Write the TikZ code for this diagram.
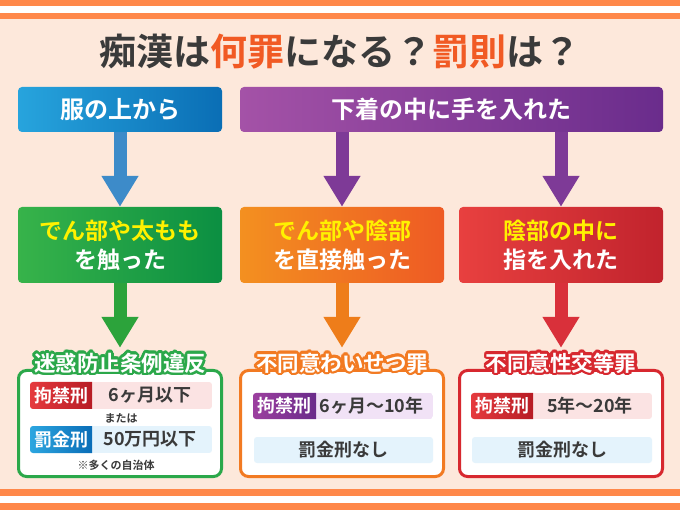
\documentclass[tikz,border=0pt]{standalone}
\usepackage{fontspec}
\setmainfont{Noto Sans CJK JP}[BoldFont={Noto Sans CJK JP Bold}]
\usepackage{tikz}
\usetikzlibrary{arrows.meta,positioning,calc}

\definecolor{peach}{HTML}{FDE8DB}
\definecolor{stripe}{HTML}{FF884A}
\definecolor{ink}{HTML}{3A3A3A}
\definecolor{accent}{HTML}{F15A24}
\definecolor{ylw}{HTML}{FFF100}
\definecolor{blueA}{HTML}{27A4DD}
\definecolor{blueB}{HTML}{0A6EB5}
\definecolor{purpA}{HTML}{A452A7}
\definecolor{purpB}{HTML}{6A2C8C}
\definecolor{grnA}{HTML}{37B34A}
\definecolor{grnB}{HTML}{0B8F42}
\definecolor{orgA}{HTML}{F39020}
\definecolor{orgB}{HTML}{EE5A24}
\definecolor{redA}{HTML}{E8403F}
\definecolor{redB}{HTML}{C1232D}
\definecolor{arrBlue}{HTML}{3D8BC9}
\definecolor{arrPurp}{HTML}{7E3A97}
\definecolor{arrGrn}{HTML}{2CA33B}
\definecolor{arrOrg}{HTML}{EE7D1A}
\definecolor{arrRed}{HTML}{D9303A}
\definecolor{lnGrn}{HTML}{2BA84A}
\definecolor{lnOrg}{HTML}{F27A22}
\definecolor{lnRed}{HTML}{D7282F}
\definecolor{rowPink}{HTML}{FBE3E3}
\definecolor{rowBlue}{HTML}{E4F3FC}
\definecolor{rowPurp}{HTML}{F1E2F6}
\definecolor{lblRedA}{HTML}{E53A3E}
\definecolor{lblRedB}{HTML}{B71C24}
\definecolor{lblBlueA}{HTML}{2CA6E0}
\definecolor{lblBlueB}{HTML}{0A6DB7}
\definecolor{lblPurpA}{HTML}{9C3F9F}
\definecolor{lblPurpB}{HTML}{6A2B8A}

\begin{document}
\begin{tikzpicture}[x=1pt,y=-1pt,
    topbox/.style={rounded corners=4pt, text=white, font=\bfseries\fontsize{24}{28}\selectfont,
        minimum height=45pt, inner sep=0pt},
    midbox/.style={rounded corners=4pt, text=white, font=\bfseries\fontsize{23}{29}\selectfont,
        minimum width=204pt, minimum height=76pt, align=center, inner sep=0pt},
    resbox/.style={draw, line width=3pt, rounded corners=8pt, fill=white,
        minimum width=203pt, minimum height=106pt},
    restitle/.style={font=\bfseries\fontsize{21.5}{24}\selectfont, minimum height=30pt, inner sep=0pt},
    bigarrow/.style={line width=13pt, -{Triangle[width=35pt,length=31pt]}},
    lbl/.style={text=white, font=\bfseries\fontsize{18}{20}\selectfont, inner sep=0pt},
    val/.style={text=ink, font=\bfseries\fontsize{18}{20}\selectfont, inner sep=0pt},
    note/.style={text=ink, font=\bfseries\fontsize{11}{13}\selectfont, inner sep=0pt}]

    % Background and stripes
    \useasboundingbox (0,0) rectangle (680,510);
    \fill[peach] (0,0) rectangle (680,510);
    \fill[stripe] (0,0) rectangle (680,6);
    \fill[white] (0,6) rectangle (680,13);
    \fill[stripe] (0,13) rectangle (680,19);
    \fill[stripe] (0,489) rectangle (680,496);
    \fill[white] (0,496) rectangle (680,503);
    \fill[stripe] (0,503) rectangle (680,510);

    % Title
    \node[text=ink, font=\bfseries\fontsize{37}{40}\selectfont] (title) at (340,52)
        {痴漢は{\color{accent}何罪}になる？{\color{accent}罰則}は？};

    % Top row
    \node[topbox, minimum width=204pt, left color=blueA, right color=blueB] (over) at (120,109.5) {服の上から};
    \node[topbox, minimum width=423pt, left color=purpA, right color=purpB] (under) at (451.5,109.5) {下着の中に手を入れた};

    % Middle row
    \node[midbox, left color=grnA, right color=grnB] (touchA) at (120,245)
        {{\color{ylw}でん部や太もも}\\を触った};
    \node[midbox, left color=orgA, right color=orgB] (touchB) at (342,245)
        {{\color{ylw}でん部や陰部}\\を直接触った};
    \node[midbox, left color=redA, right color=redB] (finger) at (561,245)
        {{\color{ylw}陰部の中に}\\指を入れた};

    % Result boxes
    \node[resbox, draw=lnGrn] (lawA) at (120,423.5) {};
    \node[resbox, draw=lnOrg] (lawB) at (342,423.5) {};
    \node[resbox, draw=lnRed] (lawC) at (561,423.5) {};

    % Result titles with outline
    \foreach \a in {0,22.5,...,359} {
        \node[restitle, text=lnGrn] at ($(120,363)+(\a:2.6)$) {迷惑防止条例違反};
        \node[restitle, text=lnOrg] at ($(342,363)+(\a:2.6)$) {不同意わいせつ罪};
        \node[restitle, text=lnRed] at ($(561,363)+(\a:2.6)$) {不同意性交等罪};
    }
    \node[restitle, text=white] (ttlA) at (120,363) {迷惑防止条例違反};
    \node[restitle, text=white] (ttlB) at (342,363) {不同意わいせつ罪};
    \node[restitle, text=white] (ttlC) at (561,363) {不同意性交等罪};

    % Arrows
    \draw[bigarrow, arrBlue] (over.south) -- (touchA.north);
    \draw[bigarrow, arrPurp] (under.south -| touchB.north) -- (touchB.north);
    \draw[bigarrow, arrPurp] (under.south -| finger.north) -- (finger.north);
    \draw[bigarrow, arrGrn] (touchA.south) -- (ttlA.north);
    \draw[bigarrow, arrOrg] (touchB.south) -- (ttlB.north);
    \draw[bigarrow, arrRed] (finger.south) -- (ttlC.north);

    % Left box rows
    \begin{scope}
        \clip[rounded corners=3pt] (30,382) rectangle (212,409);
        \fill[rowPink] (30,382) rectangle (212,409);
        \shade[left color=lblRedA, right color=lblRedB] (30,382) rectangle (92,409);
    \end{scope}
    \begin{scope}
        \clip[rounded corners=3pt] (30,426) rectangle (212,453);
        \fill[rowBlue] (30,426) rectangle (212,453);
        \shade[left color=lblBlueA, right color=lblBlueB] (30,426) rectangle (92,453);
    \end{scope}
    \node[lbl] (kinA) at (61,395.5) {拘禁刑};
    \node[val] (termA) at (150,395.5) {6ヶ月以下};
    \node[note] (orA) at (121,418) {または};
    \node[lbl] (fineA) at (61,439.5) {罰金刑};
    \node[val] (sumA) at (150,439.5) {50万円以下};
    \node[note] (noteA) at (116,465) {※多くの自治体};

    % Middle box rows
    \begin{scope}
        \clip[rounded corners=3pt] (253,393) rectangle (433,419);
        \fill[rowPurp] (253,393) rectangle (433,419);
        \shade[left color=lblPurpA, right color=lblPurpB] (253,393) rectangle (316,419);
    \end{scope}
    \fill[rowBlue, rounded corners=3pt] (254,437) rectangle (433,463);
    \node[lbl] (kinB) at (284.5,406) {拘禁刑};
    \node[val] (termB) at (371.5,406) {6ヶ月～10年};
    \node[val] (fineB) at (343,450) {罰金刑なし};

    % Right box rows
    \begin{scope}
        \clip[rounded corners=3pt] (471,393) rectangle (652,419);
        \fill[rowPink] (471,393) rectangle (652,419);
        \shade[left color=lblRedA, right color=lblRedB] (471,393) rectangle (533,419);
    \end{scope}
    \fill[rowBlue, rounded corners=3pt] (472,437) rectangle (652,463);
    \node[lbl] (kinC) at (502,406) {拘禁刑};
    \node[val] (termC) at (590,406) {5年～20年};
    \node[val] (fineC) at (562,450) {罰金刑なし};
\end{tikzpicture}
\end{document}
